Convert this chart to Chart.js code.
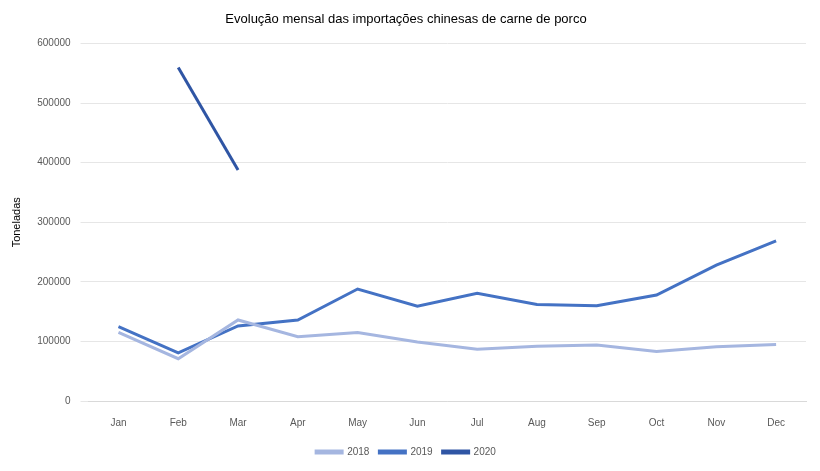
<!DOCTYPE html>
<html><head><meta charset="utf-8">
<script src="https://cdn.jsdelivr.net/npm/chart.js@4"></script>
<style>body{margin:0;background:#fff}#w{width:820px;height:471px}</style>
</head><body><div id="w"><canvas id="c"></canvas></div>
<script>
const categories=["Jan","Feb","Mar","Apr","May","Jun","Jul","Aug","Sep","Oct","Nov","Dec"];
const s2018=[115000,71000,136000,108000,115000,99000,87000,92000,94000,83000,91000,95000];
const s2019=[125000,81000,126000,136000,188000,159000,181000,162000,160000,178000,228000,269000];
const s2020=[null,560000,388000,null,null,null,null,null,null,null,null,null];
const f='"Liberation Sans", Arial, sans-serif';
new Chart(document.getElementById('c'),{type:'line',
data:{labels:categories,datasets:[
{label:'2018',data:s2018,borderColor:'#a5b6e0',backgroundColor:'#a5b6e0',borderWidth:3,pointRadius:0,tension:0},
{label:'2019',data:s2019,borderColor:'#4472c4',backgroundColor:'#4472c4',borderWidth:3,pointRadius:0,tension:0},
{label:'2020',data:s2020,borderColor:'#2f55a4',backgroundColor:'#2f55a4',borderWidth:3,pointRadius:0,tension:0}]},
options:{responsive:true,maintainAspectRatio:false,animation:false,
layout:{padding:{left:6,right:14,top:4,bottom:4}},
plugins:{title:{display:true,text:'Evolução mensal das importações chinesas de carne de porco',color:'#000',font:{family:f,size:13,weight:'normal'},padding:{top:8,bottom:16}},
legend:{position:'bottom',labels:{boxWidth:26,boxHeight:2,color:'#595959',font:{family:f,size:10}}}},
scales:{x:{offset:true,grid:{display:false},border:{color:'#d9d9d9'},ticks:{color:'#595959',padding:8,font:{family:f,size:10}}},
y:{min:0,max:600000,ticks:{stepSize:100000,padding:10,color:'#595959',font:{family:f,size:10},callback:v=>String(v)},grid:{color:'#e6e6e6'},border:{display:false},
title:{display:true,text:'Toneladas',color:'#000',font:{family:f,size:11}}}}}});
</script></body></html>
